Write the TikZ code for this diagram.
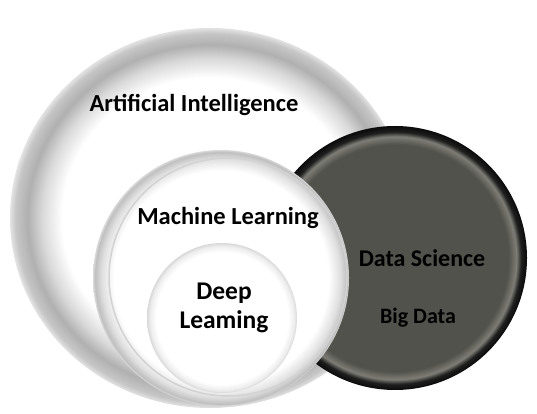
\documentclass[tikz,border=0pt]{standalone}
\usepackage{fontspec}
\setmainfont{Carlito}
\usepackage{tikz}
\definecolor{dsgray}{RGB}{82,82,76}
\definecolor{dshigh}{RGB}{125,125,118}
% rims of the circles (shading box: circle edge at 25bp)
\pgfdeclareradialshading{airim}{\pgfpoint{0bp}{0bp}}{color(0bp)=(white); color(18.5bp)=(white); color(21bp)=(gray!30); color(22.8bp)=(gray!62); color(24.3bp)=(gray!45); color(25bp)=(gray!22); color(50bp)=(gray!22)}
\pgfdeclareradialshading{mlrim}{\pgfpoint{0bp}{0bp}}{color(0bp)=(white); color(21bp)=(white); color(23.3bp)=(gray!25); color(24.6bp)=(gray!50); color(25bp)=(gray!30); color(50bp)=(gray!30)}
\pgfdeclareradialshading{dlrim}{\pgfpoint{0bp}{0bp}}{color(0bp)=(white); color(22bp)=(white); color(24bp)=(gray!14); color(25bp)=(gray!30); color(50bp)=(gray!30)}
\pgfdeclareradialshading{dsball}{\pgfpoint{0bp}{0bp}}{color(0bp)=(dsgray); color(21.5bp)=(dsgray); color(23bp)=(dshigh); color(23.9bp)=(black!88); color(25bp)=(black!96); color(50bp)=(black!96)}

\begin{document}
\begin{tikzpicture}[x=1pt,y=1pt,
    lbl/.style={font=\bfseries\fontsize{24.5}{29}\selectfont, text=black, inner sep=0pt},
    lblsmall/.style={lbl, font=\bfseries\fontsize{22}{26}\selectfont}]
      % canvas: 537 x 414 px, y counted from the bottom
      \useasboundingbox (0,0) rectangle (537,414);
      \fill[white] (0,0) rectangle (537,414);
      % Artificial Intelligence: big pale circle
      \shade[shading=airim] (210,196) ellipse [x radius=200, y radius=190];
      % Data Science: dark circle on the right
      \shade[shading=dsball] (395,156) circle (132);
      % Machine Learning: cuts the dark circle
      \shade[shading=mlrim] (221,136) circle (128);
      \draw[gray!35, line width=1.5pt] (228,137) circle (119);
      % Deep Learning: inner circle
      \shade[shading=dlrim] (222,96) circle (75);
      % labels
      \node[lbl] (ai) at (194,309) {Artificial Intelligence};
      \node[lbl] (ml) at (228,196) {Machine Learning};
      \node[lbl, align=center, font=\bfseries\fontsize{25.5}{29}\selectfont] (dl) at (224,106) {Deep\\Leaming};
      \node[lbl, font=\bfseries\fontsize{24}{28}\selectfont] (ds) at (422,156) {Data Science};
      \node[lblsmall] (bd) at (418,96) {Big Data};
    \end{tikzpicture}
\end{document}
